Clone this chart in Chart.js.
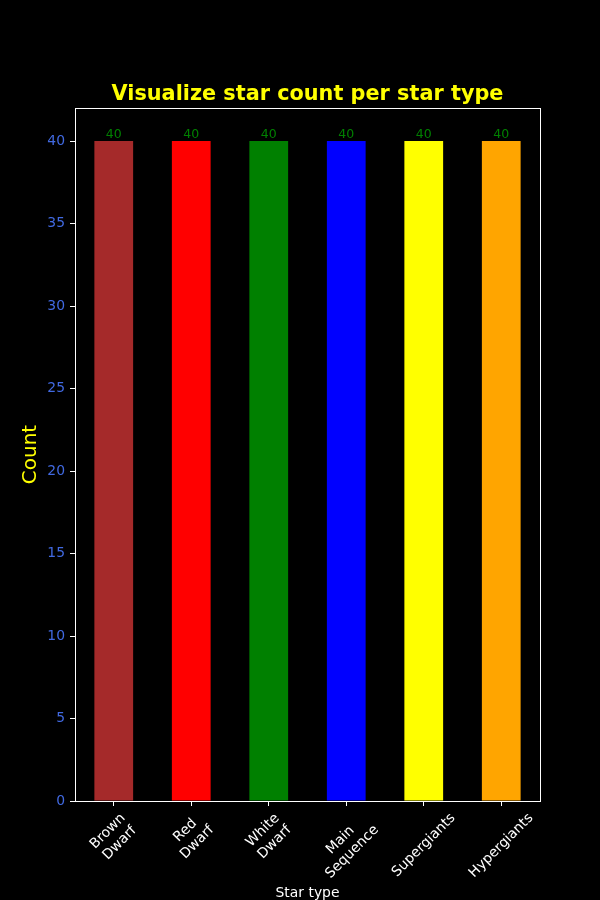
<!DOCTYPE html>
<html>
<head>
<meta charset="utf-8">
<script src="https://cdn.jsdelivr.net/npm/chart.js@4/dist/chart.umd.min.js"></script>
<style>
  html, body { margin: 0; padding: 0; background: #000; }
  #wrap { width: 600px; height: 900px; }
</style>
</head>
<body>
<div id="wrap"><canvas id="c" width="600" height="900"></canvas></div>
<script>
const categories = [["Brown", "Dwarf"], ["Red", "Dwarf"], ["White", "Dwarf"], ["Main", "Sequence"], ["Supergiants"], ["Hypergiants"]];
const counts = [40, 40, 40, 40, 40, 40];
const barColors = ["#a52a2a", "#ff0000", "#008000", "#0000ff", "#ffff00", "#ffa500"];
const yTicks = [0, 5, 10, 15, 20, 25, 30, 35, 40];
const titleText = "Visualize star count per star type";
const xTitle = "Star type";
const yTitle = "Count";

const FONT = "'DejaVu Sans', sans-serif";

const deco = {
  id: 'deco',
  afterDatasetsDraw(chart) {
    const ctx = chart.ctx;
    const meta = chart.getDatasetMeta(0);
    ctx.save();
    ctx.font = "12.5px " + FONT;
    ctx.fillStyle = "#008000";
    ctx.textAlign = "center";
    ctx.textBaseline = "alphabetic";
    meta.data.forEach((bar, i) => {
      ctx.fillText(String(counts[i]), bar.x, bar.y - 3);
    });
    ctx.restore();
  },
  afterDraw(chart) {
    const ctx = chart.ctx;
    const a = chart.chartArea;
    ctx.save();
    // frame
    ctx.strokeStyle = "#ffffff";
    ctx.lineWidth = 1;
    ctx.strokeRect(Math.round(a.left) + 0.5, Math.round(a.top) + 0.5,
                   Math.round(a.right - a.left), Math.round(a.bottom - a.top));
    // title
    ctx.fillStyle = "#ffff00";
    ctx.font = "bold 20.8px " + FONT;
    ctx.textAlign = "center";
    ctx.textBaseline = "alphabetic";
    ctx.fillText(titleText, (a.left + a.right) / 2, 100);
    // rotated x tick labels (centered on ticks like matplotlib)
    const xs = chart.scales.x;
    const fs = 13.9, lh = fs * 1.2;
    ctx.font = fs + "px " + FONT;
    ctx.fillStyle = "#ffffff";
    ctx.textBaseline = "middle";
    const yTop = 810;
    categories.forEach((lab, i) => {
      const lines = Array.isArray(lab) ? lab : [lab];
      const W = Math.max(...lines.map(l => ctx.measureText(l).width));
      const H = lines.length * lh;
      const side = (W + H) / Math.SQRT2;
      const cx = xs.getPixelForValue(i);
      const cy = yTop + side / 2;
      ctx.save();
      ctx.translate(cx, cy);
      ctx.rotate(-Math.PI / 4);
      lines.forEach((l, j) => {
        ctx.fillText(l, 0, (j - (lines.length - 1) / 2) * lh);
      });
      ctx.restore();
    });
    ctx.restore();
  }
};

new Chart(document.getElementById('c'), {
  type: 'bar',
  data: {
    labels: categories,
    datasets: [{
      data: counts,
      backgroundColor: barColors,
      borderWidth: 0,
      barPercentage: 0.5,
      categoryPercentage: 1.0
    }]
  },
  plugins: [deco],
  options: {
    responsive: false,
    animation: false,
    devicePixelRatio: 1,
    layout: { padding: { top: 108, right: 60, left: 0, bottom: 0 } },
    plugins: {
      legend: { display: false },
      title: { display: false },
      tooltip: { enabled: false }
    },
    scales: {
      x: {
        offset: true,
        afterFit(s) { s.height = 99; },
        border: { display: false },
        grid: { display: true, offset: false, drawOnChartArea: false, drawTicks: true, tickLength: 5, color: "#ffffff" },
        ticks: { display: false, autoSkip: false },
        title: { display: true, text: xTitle, color: "#ffffff", font: { family: FONT, size: 13.9, lineHeight: 1.0 }, padding: { top: 0, bottom: 0 } }
      },
      y: {
        min: 0,
        max: 42,
        afterFit(s) { s.width = 75; },
        afterBuildTicks(s) { s.ticks = yTicks.map(v => ({ value: v })); },
        border: { display: false },
        grid: { display: true, drawOnChartArea: false, drawTicks: true, tickLength: 5, color: "#ffffff" },
        ticks: { stepSize: 5, color: "#4169e1", padding: 5, font: { family: FONT, size: 13.9 } },
        title: { display: true, text: yTitle, color: "#ffff00", font: { family: FONT, size: 20 }, padding: { top: 18.5, bottom: 0 } }
      }
    }
  }
});
</script>
</body>
</html>
